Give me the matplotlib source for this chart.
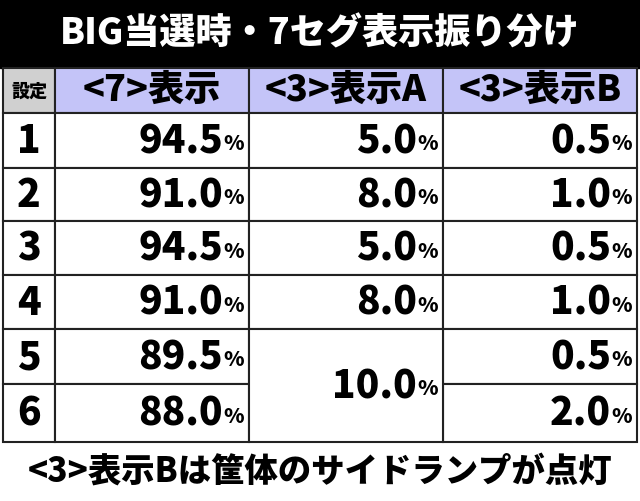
import matplotlib.pyplot as plt
from matplotlib.patches import Rectangle

plt.rcParams['font.family'] = ['Noto Sans CJK JP', 'DejaVu Sans']

title = 'BIG当選時・7セグ表示振り分け'
headers = ['<7>表示', '<3>表示A', '<3>表示B']
settings = ['1', '2', '3', '4', '5', '6']
col7 = ['94.5', '91.0', '94.5', '91.0', '89.5', '88.0']
col3a = ['5.0', '8.0', '5.0', '8.0', '10.0', '10.0']
col3b = ['0.5', '1.0', '0.5', '1.0', '0.5', '2.0']
footer = '<3>表示Bは筐体のサイドランプが点灯'

fig = plt.figure(figsize=(6.4, 5.02), dpi=100)
ax = fig.add_axes([0, 0, 1, 1])
ax.set_xlim(0, 640)
ax.set_ylim(502, 0)
ax.axis('off')

xs = [3, 55, 249, 443, 637]
ys = [114, 169, 222, 276, 330, 385, 443]
W = 'heavy'

# title bar
ax.add_patch(Rectangle((0, 0), 640, 69, color='black'))
ax.text(320, 33, title, color='white', fontsize=26, fontweight=W, ha='center', va='center')

# header
lw = 1.5
ax.add_patch(Rectangle((xs[0], 69), xs[1] - xs[0], 45, facecolor='#d0d0d0', edgecolor='#222', lw=lw))
ax.text((xs[0] + xs[1]) / 2, 91, '設定', fontsize=13, fontweight=W, ha='center', va='center')
for i, h in enumerate(headers):
    ax.add_patch(Rectangle((xs[i + 1], 69), xs[i + 2] - xs[i + 1], 45, facecolor='#c4c4f8', edgecolor='#222', lw=lw))
    ax.text((xs[i + 1] + xs[i + 2]) / 2, 90, h, fontsize=26, fontweight=W, ha='center', va='center')


def pct(x, y, val):
    ax.text(x - 26, y, val, fontsize=28, fontweight=W, ha='right', va='center')
    ax.text(x - 26, y + 3, '%', fontsize=15, fontweight=W, ha='left', va='center')


for r in range(6):
    y0, y1 = ys[r], ys[r + 1]
    yc = (y0 + y1) / 2
    for c in range(4):
        if c == 2 and r >= 4:
            continue
        ax.add_patch(Rectangle((xs[c], y0), xs[c + 1] - xs[c], y1 - y0, facecolor='white', edgecolor='#222', lw=lw))
    ax.text((xs[0] + xs[1]) / 2, yc, settings[r], fontsize=28, fontweight=W, ha='center', va='center')
    pct(xs[2], yc, col7[r])
    if r < 4:
        pct(xs[3], yc, col3a[r])
    pct(xs[4], yc, col3b[r])

# merged cell for settings 5-6
ax.add_patch(Rectangle((xs[2], ys[4]), xs[3] - xs[2], ys[6] - ys[4], facecolor='white', edgecolor='#222', lw=lw))
pct(xs[3], (ys[4] + ys[6]) / 2, col3a[4])

ax.text(320, 471, footer, fontsize=24, fontweight=W, ha='center', va='center')

fig.savefig('out.png', dpi=100)
